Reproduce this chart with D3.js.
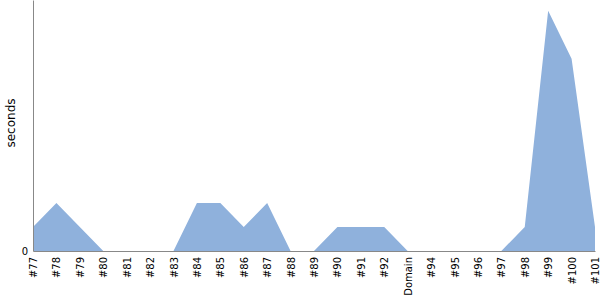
<!DOCTYPE html>
<html>
<head>
<meta charset="utf-8">
<script src="https://cdn.jsdelivr.net/npm/d3@7"></script>
<style>
  body { margin: 0; background: #fff; }
  svg { display: block; }
  svg text { font-family: "DejaVu Sans"; }
</style>
</head>
<body>
<svg id="chart"></svg>
<script>
// builds, in order
const builds = ["#77", "#78", "#79", "#80", "#81", "#82", "#83", "#84", "#85", "#86", "#87", "#88",
    "#89", "#90", "#91", "#92", "Domain", "#94", "#95", "#96", "#97", "#98", "#99", "#100", "#101"];
// duration in seconds
const seconds = [1, 2, 1, 0, 0, 0, 0, 2, 2, 1, 2, 0,
    0, 1, 1, 1, 0, 0, 0, 0, 0, 1, 10, 8, 1];
const yMax = 10.45;
const yTicks = [0];

const margin = { top: 0, right: 5, bottom: 49, left: 33 };
const width = 600 - margin.left - margin.right;
const height = 300 - margin.top - margin.bottom;

const svg = d3.select("#chart")
    .attr("width", 600)
    .attr("height", 300);

const g = svg.append("g")
    .attr("transform", `translate(${margin.left}, ${margin.top})`);

const x = d3.scalePoint().domain(builds).range([0, width]).padding(0);
const y = d3.scaleLinear().domain([0, yMax]).range([height, 0]);

const data = builds.map((b, i) => ({ build: b, value: seconds[i] }));

const area = d3.area()
    .x(d => x(d.build))
    .y0(y(0))
    .y1(d => y(d.value));

g.append("path")
    .datum(data)
    .attr("fill", "#8fb1dc")
    .attr("d", area);

const xAxis = g.append("g")
    .attr("transform", `translate(0, ${height})`)
    .call(d3.axisBottom(x).tickSize(0).tickSizeOuter(0))
    .attr("font-family", "DejaVu Sans");
xAxis.select(".domain").attr("stroke", "#888");
xAxis.selectAll("text")
    .attr("font-size", 10)
    .attr("fill", "#000")
    .attr("transform", "rotate(-90)")
    .attr("text-anchor", "end")
    .attr("x", -6)
    .attr("y", 0)
    .attr("dy", "0.35em");

const yAxis = g.append("g")
    .call(d3.axisLeft(y).tickValues(yTicks).tickSize(0).tickPadding(5).tickSizeOuter(0))
    .attr("font-family", "DejaVu Sans");
yAxis.select(".domain").attr("stroke", "#888");
yAxis.selectAll("text")
    .attr("font-size", 10)
    .attr("fill", "#000");

svg.append("text")
    .attr("text-anchor", "middle")
    .attr("transform", `translate(15, ${margin.top + 123}) rotate(-90)`)
    .attr("font-family", "DejaVu Sans")
    .attr("font-size", 12)
    .text("seconds");
</script>
</body>
</html>
